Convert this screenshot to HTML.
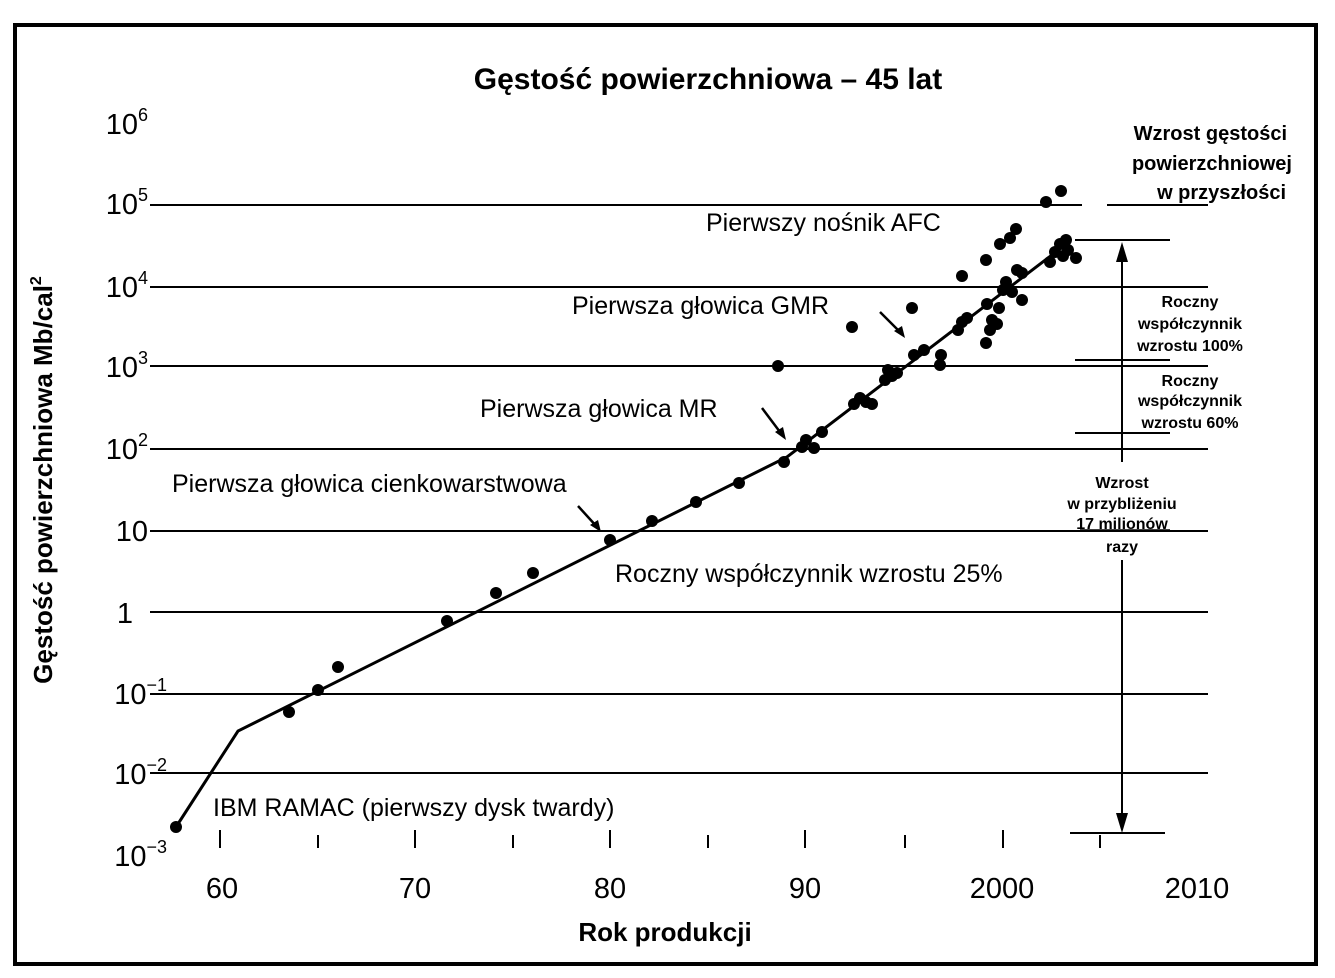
<!DOCTYPE html>
<html><head><meta charset="utf-8"><style>
html,body{margin:0;padding:0;background:#fff}
svg{display:block}
text{font-family:"Liberation Sans",sans-serif;fill:#000}
</style></head><body>
<svg width="1335" height="978" viewBox="0 0 1335 978" xmlns="http://www.w3.org/2000/svg">
<rect x="15" y="25" width="1301" height="939" fill="none" stroke="#000" stroke-width="4"/>
<text x="708" y="89" font-size="30" font-weight="bold" text-anchor="middle">Gęstość powierzchniowa – 45 lat</text>
<g font-size="29" text-anchor="end">
<text x="148" y="134">10<tspan font-size="18" dy="-13">6</tspan></text>
<text x="148" y="214">10<tspan font-size="18" dy="-13">5</tspan></text>
<text x="148" y="297">10<tspan font-size="18" dy="-13">4</tspan></text>
<text x="148" y="377">10<tspan font-size="18" dy="-13">3</tspan></text>
<text x="148" y="459">10<tspan font-size="18" dy="-13">2</tspan></text>
<text x="148" y="541">10</text>
<text x="133" y="623">1</text>
<text x="167" y="704">10<tspan font-size="18" dy="-13">−1</tspan></text>
<text x="167" y="784">10<tspan font-size="18" dy="-13">−2</tspan></text>
<text x="167" y="866">10<tspan font-size="18" dy="-13">−3</tspan></text>
</g>
<text transform="translate(52,480) rotate(-90)" font-size="26" font-weight="bold" text-anchor="middle">Gęstość powierzchniowa Mb/cal<tspan font-size="16" dy="-11">2</tspan></text>
<g stroke="#000" stroke-width="2">
<line x1="150" y1="205" x2="1082" y2="205"/><line x1="1107" y1="205" x2="1208" y2="205"/>
<line x1="150" y1="287" x2="1208" y2="287"/>
<line x1="150" y1="366" x2="1208" y2="366"/>
<line x1="150" y1="449" x2="1208" y2="449"/>
<line x1="150" y1="531" x2="1208" y2="531"/>
<line x1="150" y1="612" x2="1208" y2="612"/>
<line x1="150" y1="694" x2="1208" y2="694"/>
<line x1="150" y1="773" x2="1208" y2="773"/>
<line x1="1075" y1="240" x2="1170" y2="240"/>
<line x1="1075" y1="360" x2="1170" y2="360"/>
<line x1="1075" y1="433" x2="1170" y2="433"/>
<line x1="1070" y1="833" x2="1165" y2="833"/>
<line x1="1122" y1="255" x2="1122" y2="462"/>
<line x1="1122" y1="560" x2="1122" y2="820"/>
<line x1="1080" y1="530" x2="1170" y2="530" stroke-width="1.5"/>
</g>
<polygon points="1122,242 1116,262 1128,262" fill="#000"/>
<polygon points="1122,833 1116,813 1128,813" fill="#000"/>
<g stroke="#000" stroke-width="2">
<line x1="220" y1="830" x2="220" y2="848"/><line x1="318" y1="835" x2="318" y2="848"/>
<line x1="415" y1="830" x2="415" y2="848"/><line x1="513" y1="835" x2="513" y2="848"/>
<line x1="610" y1="830" x2="610" y2="848"/><line x1="708" y1="835" x2="708" y2="848"/>
<line x1="805" y1="830" x2="805" y2="848"/><line x1="905" y1="835" x2="905" y2="848"/>
<line x1="1003" y1="830" x2="1003" y2="848"/><line x1="1100" y1="835" x2="1100" y2="848"/>
</g>
<g font-size="29" text-anchor="middle">
<text x="222" y="898">60</text><text x="415" y="898">70</text><text x="610" y="898">80</text>
<text x="805" y="898">90</text><text x="1002" y="898">2000</text><text x="1197" y="898">2010</text>
</g>
<text x="665" y="941" font-size="26" font-weight="bold" text-anchor="middle">Rok produkcji</text>
<polyline points="176,827 238,731 787,457 1065,245" fill="none" stroke="#000" stroke-width="3"/>
<g fill="#000">
<circle cx="176" cy="827" r="6"/><circle cx="289" cy="712" r="6"/><circle cx="318" cy="690" r="6"/><circle cx="338" cy="667" r="6"/>
<circle cx="447" cy="621" r="6"/><circle cx="496" cy="593" r="6"/><circle cx="533" cy="573" r="6"/><circle cx="610" cy="540" r="6"/>
<circle cx="652" cy="521" r="6"/><circle cx="696" cy="502" r="6"/><circle cx="739" cy="483" r="6"/><circle cx="778" cy="366" r="6"/>
<circle cx="784" cy="462" r="6"/><circle cx="806" cy="440" r="6"/><circle cx="814" cy="448" r="6"/><circle cx="802" cy="447" r="6"/>
<circle cx="822" cy="432" r="6"/><circle cx="852" cy="327" r="6"/><circle cx="854" cy="404" r="6"/><circle cx="866" cy="402" r="6"/>
<circle cx="872" cy="404" r="6"/><circle cx="860" cy="398" r="6"/><circle cx="885" cy="380" r="6"/><circle cx="888" cy="370" r="6"/>
<circle cx="892" cy="376" r="6"/><circle cx="897" cy="373" r="6"/><circle cx="912" cy="308" r="6"/><circle cx="914" cy="355" r="6"/>
<circle cx="924" cy="350" r="6"/><circle cx="940" cy="365" r="6"/><circle cx="941" cy="355" r="6"/><circle cx="958" cy="330" r="6"/>
<circle cx="962" cy="322" r="6"/><circle cx="962" cy="276" r="6"/><circle cx="967" cy="318" r="6"/><circle cx="986" cy="343" r="6"/>
<circle cx="990" cy="330" r="6"/><circle cx="992" cy="320" r="6"/><circle cx="997" cy="324" r="6"/><circle cx="999" cy="308" r="6"/>
<circle cx="1003" cy="290" r="6"/><circle cx="1006" cy="282" r="6"/><circle cx="1012" cy="292" r="6"/><circle cx="1017" cy="270" r="6"/>
<circle cx="1022" cy="300" r="6"/><circle cx="1000" cy="244" r="6"/><circle cx="1010" cy="238" r="6"/><circle cx="1016" cy="229" r="6"/>
<circle cx="1046" cy="202" r="6"/><circle cx="1061" cy="191" r="6"/><circle cx="1055" cy="252" r="6"/><circle cx="1060" cy="244" r="6"/>
<circle cx="1066" cy="240" r="6"/><circle cx="1063" cy="256" r="6"/><circle cx="1076" cy="258" r="6"/><circle cx="1050" cy="262" r="6"/>
<circle cx="1022" cy="273" r="6"/><circle cx="987" cy="304" r="6"/><circle cx="1068" cy="250" r="6"/><circle cx="986" cy="260" r="6"/>
</g>
<g font-size="25">
<text x="706" y="231">Pierwszy nośnik AFC</text>
<text x="572" y="314">Pierwsza głowica GMR</text>
<text x="480" y="417">Pierwsza głowica MR</text>
<text x="172" y="492">Pierwsza głowica cienkowarstwowa</text>
<text x="615" y="582">Roczny współczynnik wzrostu 25%</text>
<text x="213" y="816">IBM RAMAC (pierwszy dysk twardy)</text>
</g>
<g stroke="#000" stroke-width="2.5">
<line x1="880" y1="312" x2="902" y2="334"/><line x1="762" y1="408" x2="783" y2="436"/><line x1="578" y1="506" x2="598" y2="528"/>
</g>
<polygon points="905,338 894,331 902,326" fill="#000"/>
<polygon points="786,440 775,432 783,427" fill="#000"/>
<polygon points="601,532 590,525 598,520" fill="#000"/>
<g font-size="20" font-weight="bold" text-anchor="end">
<text x="1287" y="140">Wzrost gęstości</text>
<text x="1292" y="170">powierzchniowej</text>
<text x="1286" y="199">w przyszłości</text>
</g>
<g font-size="16" font-weight="bold" text-anchor="middle">
<text x="1190" y="307">Roczny</text><text x="1190" y="329">współczynnik</text><text x="1190" y="351">wzrostu 100%</text>
<text x="1190" y="386">Roczny</text><text x="1190" y="406">współczynnik</text><text x="1190" y="428">wzrostu 60%</text>
<text x="1122" y="488">Wzrost</text><text x="1122" y="509">w przybliżeniu</text><text x="1122" y="529">17 milionów</text><text x="1122" y="552">razy</text>
</g>
</svg>
</body></html>
